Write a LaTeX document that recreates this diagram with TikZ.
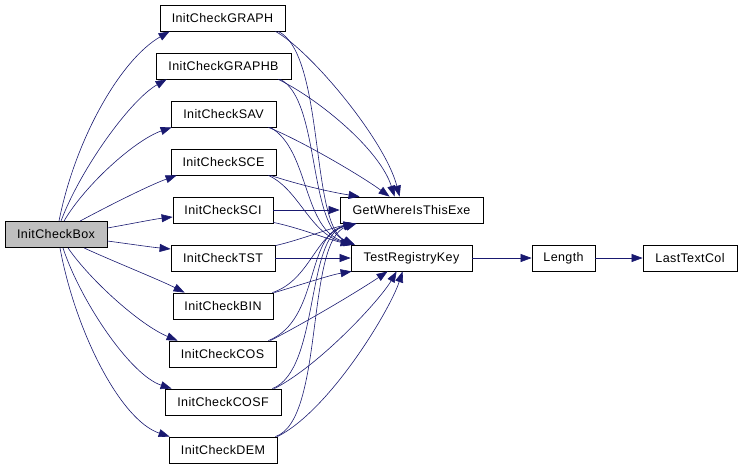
\documentclass[tikz,border=0pt]{standalone}
\usepackage{fontspec}
\setmainfont[LetterSpace=3]{Liberation Sans}
\usetikzlibrary{arrows.meta}
\definecolor{edgeblue}{HTML}{191970}
\definecolor{boxgray}{HTML}{BFBFBF}
\begin{document}
\begin{tikzpicture}[x=1pt,y=1pt,
  fn/.style={draw=black,line width=0.8pt,fill=white,rectangle,inner sep=0pt,minimum height=26pt,font=\fontsize{12.5}{14}\selectfont},
  e/.style={draw=edgeblue,line width=0.6pt,-{Triangle[length=11pt,width=8pt]}}]
\useasboundingbox (0,-466) rectangle (741,0);
% nodes
\node[fn,fill=boxgray,minimum width=102pt] (box) at (56,-234.5) {InitCheckBox};
\node[fn,minimum width=125pt] (graph) at (222.5,-18) {InitCheckGRAPH};
\node[fn,minimum width=135pt] (graphb) at (223.5,-66) {InitCheckGRAPHB};
\node[fn,minimum width=105pt] (sav) at (223.5,-114) {InitCheckSAV};
\node[fn,minimum width=105pt] (sce) at (223.5,-162) {InitCheckSCE};
\node[fn,minimum width=100pt] (sci) at (223,-210) {InitCheckSCI};
\node[fn,minimum width=104pt] (tst) at (223,-258) {InitCheckTST};
\node[fn,minimum width=100pt] (bin) at (223,-306) {InitCheckBIN};
\node[fn,minimum width=107pt] (cos) at (222.5,-354) {InitCheckCOS};
\node[fn,minimum width=116pt] (cosf) at (223,-402) {InitCheckCOSF};
\node[fn,minimum width=108pt] (dem) at (223,-450) {InitCheckDEM};
\node[fn,minimum width=143pt] (gwe) at (411.5,-210) {GetWhereIsThisExe};
\node[fn,minimum width=121pt] (trk) at (411.5,-258) {TestRegistryKey};
\node[fn,minimum width=63pt] (len) at (563.5,-258) {Length};
\node[fn,minimum width=94pt] (ltc) at (690,-258) {LastTextCol};
% InitCheckBox -> callees
\draw[e] ([xshift=3pt]box.north) .. controls (75,-140) and (120,-60) .. ([xshift=10pt]graph.south west);
\draw[e] ([xshift=5pt]box.north) .. controls (80,-170) and (130,-100) .. ([xshift=11pt]graphb.south west);
\draw[e] ([xshift=8pt]box.north) .. controls (85,-185) and (135,-140) .. ([xshift=1pt]sav.south west);
\draw[e] ([xshift=24pt]box.north) .. controls (110,-205) and (150,-185) .. ([xshift=6pt]sce.south west);
\draw[e] ([yshift=6.5pt]box.east) .. controls (130,-224) and (155,-219) .. ([yshift=-7pt]sci.west);
\draw[e] ([yshift=-6.5pt]box.east) .. controls (130,-244) and (150,-247) .. ([yshift=9pt]tst.west);
\draw[e] ([xshift=28pt]box.south) .. controls (110,-260) and (160,-280) .. ([xshift=12pt]bin.north west);
\draw[e] ([xshift=12pt]box.south) .. controls (90,-280) and (140,-325) .. ([xshift=9pt]cos.north west);
\draw[e] ([xshift=7pt]box.south) .. controls (80,-300) and (130,-375) .. ([xshift=7pt]cosf.north west);
\draw[e] ([xshift=4pt]box.south) .. controls (75,-330) and (120,-420) .. ([xshift=1pt]dem.north west);
% callees -> GetWhereIsThisExe / TestRegistryKey
\draw[e] ([xshift=-10pt]graph.south east) .. controls (310,-50) and (385,-140) .. ([xshift=60pt]gwe.north west);
\draw[e] ([xshift=-7pt]graph.south east) .. controls (325,-55) and (310,-225) .. ([xshift=4pt]trk.north west);
\draw[e] ([xshift=-13pt]graphb.south east) .. controls (320,-100) and (380,-150) .. ([xshift=55pt]gwe.north west);
\draw[e] ([xshift=-11pt]graphb.south east) .. controls (320,-100) and (308,-225) .. ([xshift=4pt]trk.north west);
\draw[e] ([xshift=-8pt]sav.south east) .. controls (300,-140) and (360,-175) .. ([xshift=50pt]gwe.north west);
\draw[e] ([xshift=-6pt]sav.south east) .. controls (310,-150) and (302,-230) .. ([xshift=4pt]trk.north west);
\draw[e] ([xshift=-6pt]sce.south east) .. controls (300,-185) and (330,-192) .. ([xshift=20pt]gwe.north west);
\draw[e] ([xshift=-8pt]sce.south east) .. controls (300,-190) and (310,-235) .. ([xshift=4pt]trk.north west);
\draw[e] (sci.east) -- (gwe.west);
\draw[e] ([yshift=1pt]sci.south east) .. controls (300,-228) and (330,-240) .. ([xshift=1pt]trk.north west);
\draw[e] ([yshift=-1pt]tst.north east) .. controls (300,-240) and (330,-228) .. ([xshift=15pt]gwe.south west);
\draw[e] (tst.east) -- (trk.west);
\draw[e] ([xshift=-1pt]bin.north east) .. controls (310,-280) and (315,-235) .. ([xshift=15pt]gwe.south west);
\draw[e] ([xshift=1pt]bin.north east) .. controls (300,-285) and (330,-275) .. ([xshift=1pt]trk.south west);
\draw[e] ([xshift=-8pt]cos.north east) .. controls (320,-320) and (305,-235) .. ([xshift=15pt]gwe.south west);
\draw[e] ([xshift=-6pt]cos.north east) .. controls (310,-320) and (360,-290) .. ([xshift=37pt]trk.south west);
\draw[e] ([xshift=-9pt]cosf.north east) .. controls (320,-370) and (305,-235) .. ([xshift=16pt]gwe.south west);
\draw[e] ([xshift=-7pt]cosf.north east) .. controls (320,-365) and (380,-300) .. ([xshift=46pt]trk.south west);
\draw[e] ([xshift=-2pt]dem.north east) .. controls (325,-420) and (305,-240) .. ([xshift=17pt]gwe.south west);
\draw[e] (dem.north east) .. controls (330,-410) and (390,-310) .. ([xshift=52pt]trk.south west);
% chain
\draw[e] (trk.east) -- (len.west);
\draw[e] (len.east) -- (ltc.west);
\end{tikzpicture}
\end{document}
